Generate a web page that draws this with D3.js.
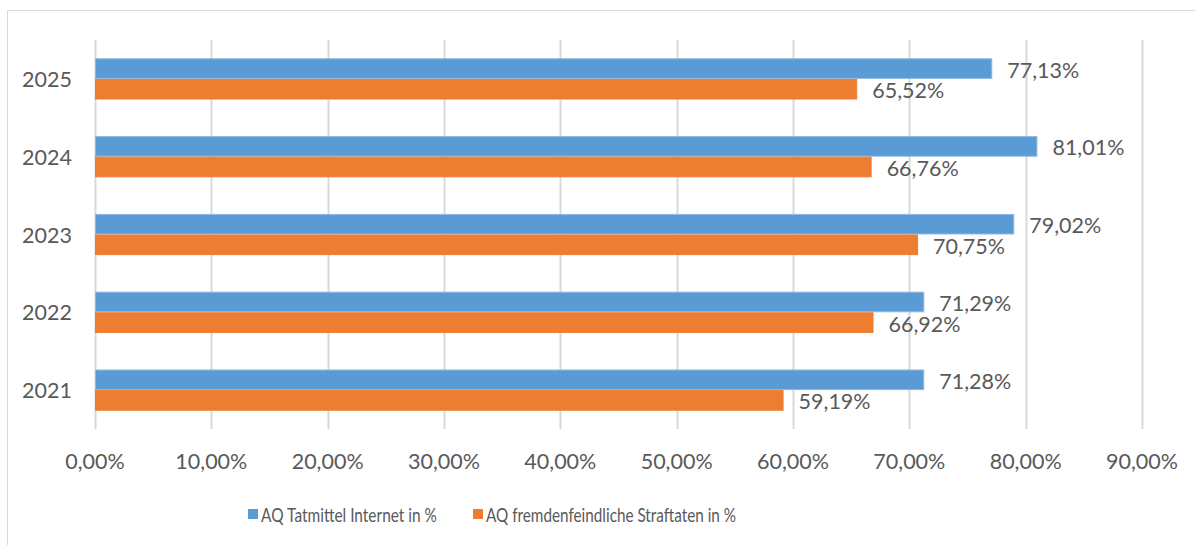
<!DOCTYPE html>
<html>
<head>
<meta charset="utf-8">
<script src="https://cdn.jsdelivr.net/npm/d3@7"></script>
<style>
  body { margin: 0; background: #fff; }
  svg text { font-family: Lato, "Open Sans", sans-serif; fill: #595959; }
</style>
</head>
<body>
<svg id="chart" width="1195" height="545"></svg>
<script>
// chart data
const years = ["2025", "2024", "2023", "2022", "2021"];
const seriesNames = ["AQ Tatmittel Internet in %", "AQ fremdenfeindliche Straftaten in %"];
const internet = [77.13, 81.01, 79.02, 71.29, 71.28];
const fremden = [65.52, 66.76, 70.75, 66.92, 59.19];
const ticks = [0, 10, 20, 30, 40, 50, 60, 70, 80, 90];
const colors = ["#5B9BD5", "#ED7D31"];
const strokes = ["#8DB9E3", "#ED7D31"];

const fmt = v => v.toFixed(2).replace(".", ",") + "%";
const numSize = 21.5;

const svg = d3.select("#chart");

// outer frame
svg.append("rect")
  .attr("x", 7.5).attr("y", 10.5)
  .attr("width", 1200).attr("height", 600)
  .attr("fill", "none").attr("stroke", "#d9d9d9");

const x = d3.scaleLinear().domain([0, 90]).range([95, 1142]);
const y = d3.scaleBand().domain(years).range([40, 429])
  .paddingInner(0.47).paddingOuter(0.235);
const y1 = d3.scaleBand().domain([0, 1]).range([0, y.bandwidth()]);

// gridlines
svg.append("g").selectAll("line")
  .data(ticks)
  .join("line")
  .attr("x1", d => Math.round(x(d)) + 0.5)
  .attr("x2", d => Math.round(x(d)) + 0.5)
  .attr("y1", 40).attr("y2", 429)
  .attr("stroke", "#d9d9d9").attr("stroke-width", 2);

// x tick labels
svg.append("g").selectAll("text")
  .data(ticks)
  .join("text")
  .attr("x", d => x(d))
  .attr("y", 461)
  .attr("text-anchor", "middle")
  .attr("dominant-baseline", "central")
  .attr("font-size", numSize)
  .text(d => fmt(d));

// y labels
svg.append("g").selectAll("text")
  .data(years)
  .join("text")
  .attr("x", 72)
  .attr("y", d => y(d) + y.bandwidth() / 2)
  .attr("text-anchor", "end")
  .attr("dominant-baseline", "central")
  .attr("font-size", numSize)
  .text(d => d);

// bars
const rows = years.map((yr, i) => ({ year: yr, vals: [internet[i], fremden[i]] }));
const groups = svg.append("g").selectAll("g")
  .data(rows)
  .join("g")
  .attr("transform", d => `translate(0,${y(d.year)})`);

groups.selectAll("rect")
  .data(d => d.vals.map((v, k) => ({ v, k })))
  .join("rect")
  .attr("x", x(0) + 0.5)
  .attr("y", d => y1(d.k) + 0.5)
  .attr("width", d => x(d.v) - x(0) - 1)
  .attr("height", y1.bandwidth() - 1)
  .attr("fill", d => colors[d.k])
  .attr("stroke", d => strokes[d.k]).attr("stroke-width", 1);

groups.selectAll("text")
  .data(d => d.vals.map((v, k) => ({ v, k })))
  .join("text")
  .attr("x", d => x(d.v) + 15)
  .attr("y", d => y1(d.k) + y1.bandwidth() / 2 + 1)
  .attr("dominant-baseline", "central")
  .attr("font-size", numSize)
  .text(d => fmt(d.v));

// legend
const legendX = [248, 473];
const legendW = [176, 250];
const legend = svg.append("g").selectAll("g")
  .data(seriesNames)
  .join("g")
  .attr("transform", (d, i) => `translate(${legendX[i]},514)`);
legend.append("rect")
  .attr("x", 0).attr("y", -5)
  .attr("width", 10).attr("height", 10)
  .attr("fill", (d, i) => colors[i]);
legend.append("text")
  .attr("x", 13).attr("y", 0)
  .attr("dominant-baseline", "central")
  .attr("font-size", 19)
  .attr("textLength", (d, i) => legendW[i])
  .attr("lengthAdjust", "spacingAndGlyphs")
  .text(d => d);
</script>
</body>
</html>
